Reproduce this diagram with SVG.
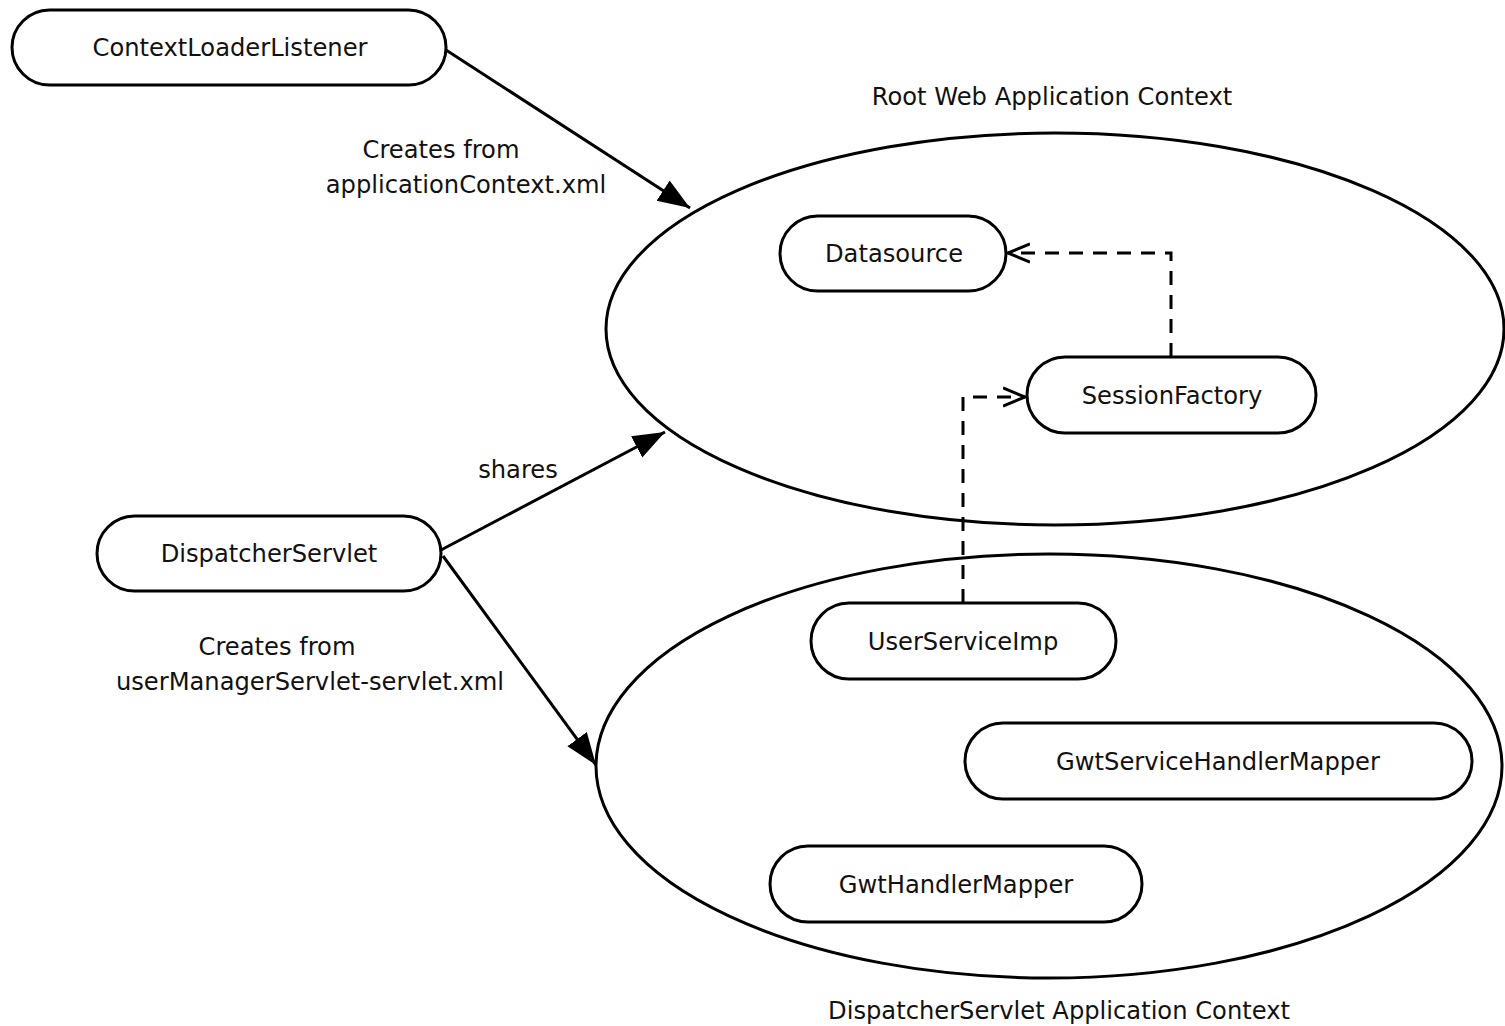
<svg xmlns="http://www.w3.org/2000/svg" width="1505" height="1026" viewBox="0 0 1505 1026">
<style>
  .ctx { fill: none; stroke: #000; stroke-width: 3; }
  .node rect { fill: #fff; stroke: #000; stroke-width: 3; }
  text { font-family: "DejaVu Sans", "Liberation Sans", sans-serif; font-size: 24.2px; fill: #111; }
  .c { text-anchor: middle; }
  .edge { fill: none; stroke: #000; stroke-width: 3; }
  .dash { fill: none; stroke: #000; stroke-width: 3; stroke-dasharray: 14 10; }
</style>
<defs>
  <marker id="filled" markerUnits="userSpaceOnUse" markerWidth="34" markerHeight="26" refX="32" refY="12" orient="auto">
    <path d="M0,0 L32,12 L0,24 Z" fill="#000"/>
  </marker>
  <marker id="open" markerUnits="userSpaceOnUse" markerWidth="26" markerHeight="24" refX="22" refY="12" orient="auto">
    <path d="M0,3 L22,12 L0,21" fill="none" stroke="#000" stroke-width="3"/>
  </marker>
</defs>
<rect width="1505" height="1026" fill="#fff"/>

<g id="root-context">
  <ellipse class="ctx" cx="1055" cy="329" rx="449" ry="196"/>
  <text class="c" x="1052" y="105">Root Web Application Context</text>
</g>
<g id="dispatcher-context">
  <ellipse class="ctx" cx="1049" cy="766" rx="453" ry="212"/>
  <text class="c" x="1059" y="1019">DispatcherServlet Application Context</text>
</g>

<g id="connectors">
  <line class="edge" x1="446" y1="50" x2="690" y2="208" marker-end="url(#filled)"/>
  <line class="edge" x1="441" y1="550" x2="665" y2="432" marker-end="url(#filled)"/>
  <line class="edge" x1="443" y1="556" x2="596" y2="765" marker-end="url(#filled)"/>
  <polyline class="dash" points="1171,357 1171,253 1008,253" marker-end="url(#open)"/>
  <polyline class="dash" points="963,603 963,397 1025,397" marker-end="url(#open)"/>
  <text class="c" x="441" y="158">Creates from</text>
  <text class="c" x="466" y="193">applicationContext.xml</text>
  <text class="c" x="518" y="478">shares</text>
  <text class="c" x="277" y="655">Creates from</text>
  <text class="c" x="310" y="690">userManagerServlet-servlet.xml</text>
</g>

<g id="ContextLoaderListener" class="node">
  <rect x="12" y="10" width="434" height="75" rx="37.5"/>
  <text class="c" x="230" y="56">ContextLoaderListener</text>
</g>
<g id="Datasource" class="node">
  <rect x="780" y="216" width="226" height="75" rx="37.5"/>
  <text class="c" x="894" y="262">Datasource</text>
</g>
<g id="SessionFactory" class="node">
  <rect x="1027" y="357" width="289" height="76" rx="38"/>
  <text class="c" x="1172" y="404">SessionFactory</text>
</g>
<g id="DispatcherServlet" class="node">
  <rect x="97" y="516" width="344" height="75" rx="37.5"/>
  <text class="c" x="269" y="562">DispatcherServlet</text>
</g>
<g id="UserServiceImp" class="node">
  <rect x="811" y="603" width="305" height="76" rx="38"/>
  <text class="c" x="963" y="650">UserServiceImp</text>
</g>
<g id="GwtServiceHandlerMapper" class="node">
  <rect x="965" y="723" width="507" height="76" rx="38"/>
  <text class="c" x="1218" y="770">GwtServiceHandlerMapper</text>
</g>
<g id="GwtHandlerMapper" class="node">
  <rect x="770" y="846" width="372" height="76" rx="38"/>
  <text class="c" x="956" y="893">GwtHandlerMapper</text>
</g>
</svg>
